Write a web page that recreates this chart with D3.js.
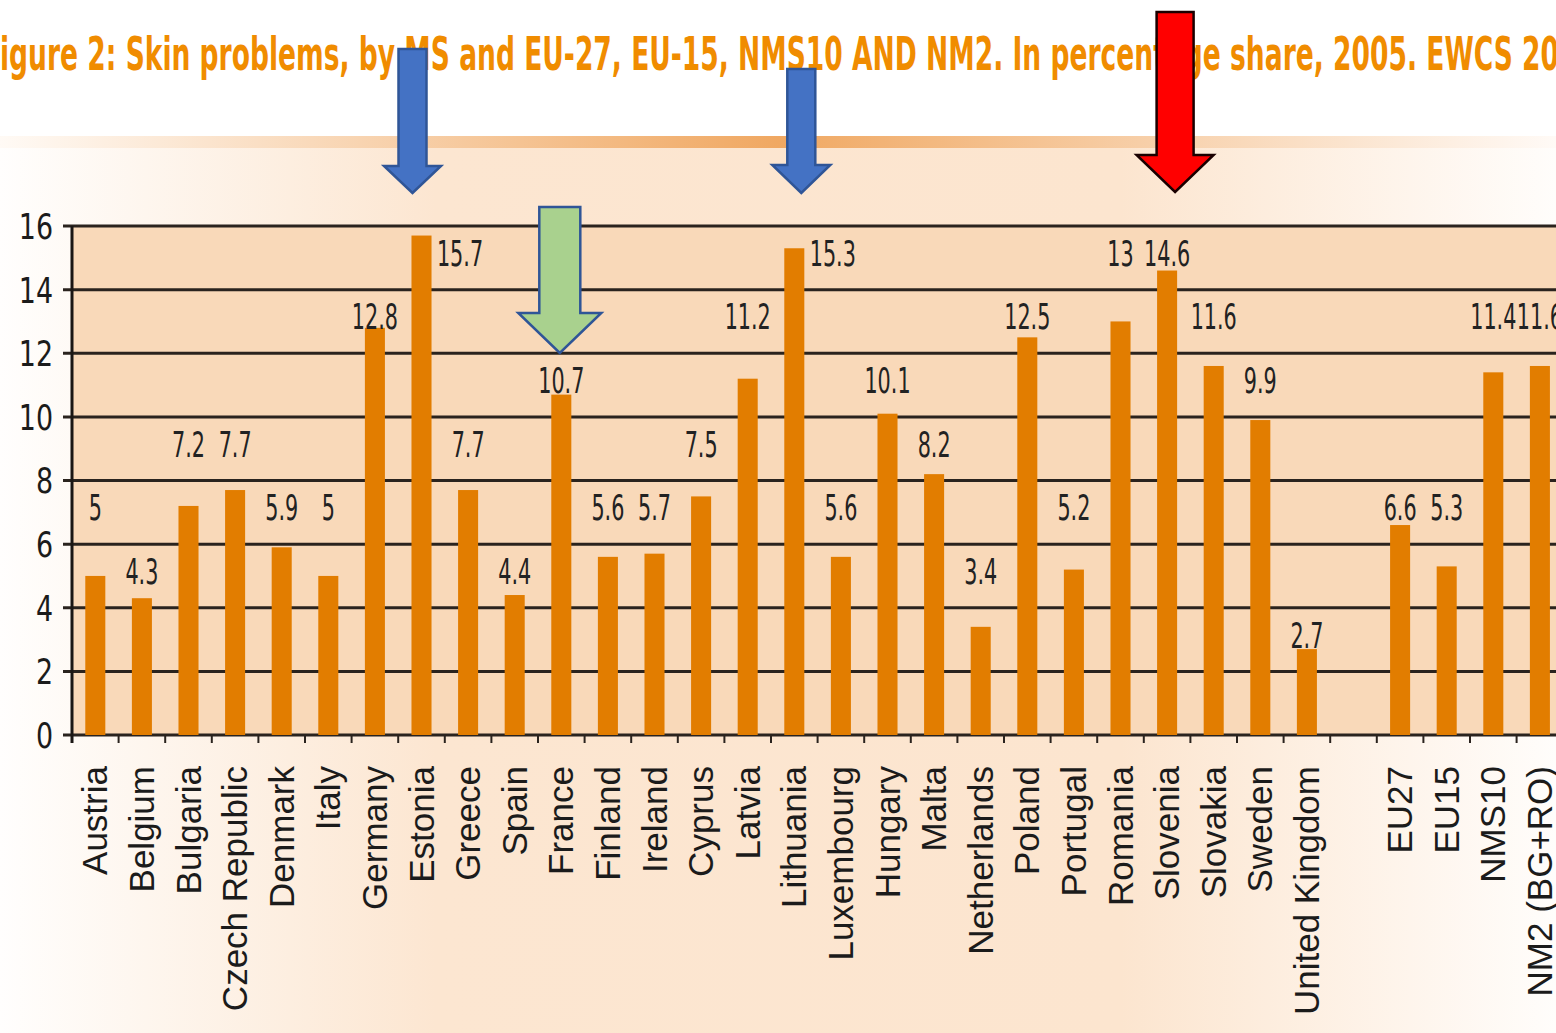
<!DOCTYPE html>
<html>
<head>
<meta charset="utf-8">
<script src="https://cdn.jsdelivr.net/npm/d3@7"></script>
<style>
  html, body { margin: 0; padding: 0; background: #fff; overflow: hidden; }
  svg { display: block; }
</style>
</head>
<body>
<svg id="chart" width="1556" height="1033"></svg>
<script>
// ============================================
// Skin problems by member state - bar chart
// ============================================

const titleText = "Figure 2: Skin problems, by MS and EU-27, EU-15, NMS10 AND NM2. In percentage share, 2005. EWCS 2005";

const countries = [
    "Austria", "Belgium", "Bulgaria", "Czech Republic", "Denmark", "Italy",
    "Germany", "Estonia", "Greece", "Spain", "France", "Finland", "Ireland",
    "Cyprus", "Latvia", "Lithuania", "Luxembourg", "Hungary", "Malta",
    "Netherlands", "Poland", "Portugal", "Romania", "Slovenia", "Slovakia",
    "Sweden", "United Kingdom"
];
const countryValues = [
    5, 4.3, 7.2, 7.7, 5.9, 5,
    12.8, 15.7, 7.7, 4.4, 10.7, 5.6, 5.7,
    7.5, 11.2, 15.3, 5.6, 10.1, 8.2,
    3.4, 12.5, 5.2, 13, 14.6, 11.6,
    9.9, 2.7
];

const aggregates = ["EU27", "EU15", "NMS10", "NM2 (BG+RO)"];
const aggregateValues = [6.6, 5.3, 11.4, 11.6];

const yTicks = [0, 2, 4, 6, 8, 10, 12, 14, 16];

// labels pushed to the side of the bar (arrow sits above them)
const sideLabelled = ["Estonia", "Lithuania"];

// build rows, with an empty slot between countries and aggregates
const GAP = "__gap__";
const rows = countries.map((c, i) => ({ cat: c, value: countryValues[i] }))
    .concat(aggregates.map((c, i) => ({ cat: c, value: aggregateValues[i] })));
const slots = countries.concat([GAP], aggregates);

// ============================================
// Setup
// ============================================
const svg = d3.select('#chart');
const W = 1556, H = 1033;
const step = 46.6;
const plotLeft = 72, plotTop = 226, plotBottom = 735;
const plotRight = plotLeft + slots.length * step;

const x = d3.scaleBand().domain(slots).range([plotLeft, plotRight]).padding(0);
const y = d3.scaleLinear().domain([0, 16]).range([plotBottom, plotTop]);

const barColor = '#e27d00';
const inkColor = '#1b1b1b';
const narrow = '"DejaVu Sans Condensed", "Liberation Sans Narrow", sans-serif';

// gradients
const defs = svg.append('defs');
const bgGrad = defs.append('linearGradient').attr('id', 'bgGrad')
    .attr('x1', '0%').attr('x2', '100%').attr('y1', '0%').attr('y2', '0%');
[[0, '#fffefd'], [0.28, '#fce6d1'], [0.72, '#fce5cf'], [1, '#fffdfb']]
    .forEach(([o, c]) => bgGrad.append('stop').attr('offset', o).attr('stop-color', c));
const bandGrad = defs.append('linearGradient').attr('id', 'bandGrad')
    .attr('x1', '0%').attr('x2', '100%').attr('y1', '0%').attr('y2', '0%');
[[0, '#fffaf5'], [0.5, '#f0a862'], [1, '#fffaf6']]
    .forEach(([o, c]) => bandGrad.append('stop').attr('offset', o).attr('stop-color', c));

// page background
svg.append('rect').attr('width', W).attr('height', H).attr('fill', '#ffffff');
svg.append('rect').attr('x', 0).attr('y', 148).attr('width', W).attr('height', H - 148)
    .attr('fill', 'url(#bgGrad)');
svg.append('rect').attr('x', 0).attr('y', 136).attr('width', W).attr('height', 12)
    .attr('fill', 'url(#bandGrad)');

// ============================================
// Title (scaled so that it runs off both edges like the source)
// ============================================
const title = svg.append('text')
    .attr('x', 0).attr('y', 0)
    .attr('font-family', narrow)
    .attr('font-size', 46)
    .attr('font-weight', 'bold')
    .attr('fill', '#f08c00')
    .text(titleText);
{
    const node = title.node();
    const firstW = node.getSubStringLength(0, 1);
    const endIdx = titleText.lastIndexOf('05');
    const visibleW = node.getSubStringLength(1, endIdx - 1);
    const s = 1560 / visibleW;
    title.attr('transform', `translate(${-firstW * s},70) scale(${s},1)`);
}

// ============================================
// Plot area
// ============================================
svg.append('rect')
    .attr('x', plotLeft).attr('y', plotTop)
    .attr('width', plotRight - plotLeft).attr('height', plotBottom - plotTop)
    .attr('fill', '#f9d9b9');

// grid lines (they also make the y ticks)
svg.append('g').selectAll('line')
    .data(yTicks)
    .enter()
    .append('line')
    .attr('x1', plotLeft - 9).attr('x2', plotRight)
    .attr('y1', d => y(d)).attr('y2', d => y(d))
    .attr('stroke', '#2a231e')
    .attr('stroke-width', 3);

// y tick labels
svg.append('g').selectAll('text')
    .data(yTicks)
    .enter()
    .append('text')
    .attr('transform', d => `translate(53,${y(d)}) scale(0.83,1)`)
    .attr('dy', '0.36em')
    .attr('text-anchor', 'end')
    .attr('font-family', narrow)
    .attr('font-size', 36)
    .attr('fill', inkColor)
    .text(d => d);

// bars
const barW = x.bandwidth() * 0.43;
svg.append('g').selectAll('rect')
    .data(rows)
    .enter()
    .append('rect')
    .attr('x', d => x(d.cat) + (x.bandwidth() - barW) / 2)
    .attr('y', d => y(d.value))
    .attr('width', barW)
    .attr('height', d => y(0) - y(d.value))
    .attr('fill', barColor);

// x axis ticks at slot edges
const edges = d3.range(slots.length + 1).map(i => plotLeft + i * x.step());
svg.append('g').selectAll('line')
    .data(edges)
    .enter()
    .append('line')
    .attr('x1', d => d).attr('x2', d => d)
    .attr('y1', plotBottom).attr('y2', plotBottom + 8)
    .attr('stroke', '#2a231e')
    .attr('stroke-width', 2);

// y axis line
svg.append('line')
    .attr('x1', plotLeft).attr('x2', plotLeft)
    .attr('y1', plotTop).attr('y2', plotBottom + 8)
    .attr('stroke', '#1a1614')
    .attr('stroke-width', 3);

// value labels: placed in the grid band just above each bar
function labelBase(d) {
    const side = sideLabelled.includes(d.cat);
    const v = side ? d.value - 2 : d.value;
    const bandLow = Math.floor((v + 1) / 2) * 2;
    return y(bandLow + 0.75);
}
svg.append('g').selectAll('text')
    .data(rows)
    .enter()
    .append('text')
    .attr('transform', d => {
        const side = sideLabelled.includes(d.cat);
        const cx = x(d.cat) + x.bandwidth() / 2 + (side ? 38.5 : 0);
        return `translate(${cx},${labelBase(d)}) scale(0.64,1)`;
    })
    .attr('text-anchor', 'middle')
    .attr('font-family', narrow)
    .attr('font-size', 36)
    .attr('fill', '#222')
    .text(d => d.value);

// category labels, rotated
svg.append('g').selectAll('text')
    .data(rows)
    .enter()
    .append('text')
    .attr('transform', d => `translate(${x(d.cat) + x.bandwidth() / 2 + 12},766) rotate(-90)`)
    .attr('text-anchor', 'end')
    .attr('font-family', '"Liberation Sans", Arial, sans-serif')
    .attr('font-size', 35)
    .attr('fill', inkColor)
    .text(d => d.cat);

// ============================================
// Annotation arrows
// ============================================
function arrowPath(cx, top, headTop, tip, sw, hw) {
    return `M${cx - sw / 2},${top}H${cx + sw / 2}V${headTop}H${cx + hw / 2}` +
        `L${cx},${tip}L${cx - hw / 2},${headTop}H${cx - sw / 2}Z`;
}
const mid = c => x(c) + x.bandwidth() / 2;
const arrows = [
    { cx: mid("Estonia") - 9, top: 49, headTop: 166, tip: 193, sw: 28, hw: 57, fill: '#4472c4', stroke: '#2f5597' },
    { cx: mid("France") - 1.5, top: 207, headTop: 313, tip: 353, sw: 41, hw: 83, fill: '#a9d18e', stroke: '#2f5597' },
    { cx: mid("Lithuania") + 7, top: 69, headTop: 165, tip: 193, sw: 28, hw: 58, fill: '#4472c4', stroke: '#2f5597' },
    { cx: mid("Slovenia") + 8, top: 12, headTop: 155, tip: 192, sw: 37, hw: 77, fill: '#ff0000', stroke: '#1a0000' }
];
svg.append('g').selectAll('path')
    .data(arrows)
    .enter()
    .append('path')
    .attr('d', a => arrowPath(a.cx, a.top, a.headTop, a.tip, a.sw, a.hw))
    .attr('fill', a => a.fill)
    .attr('stroke', a => a.stroke)
    .attr('stroke-width', 2.5)
    .attr('stroke-linejoin', 'miter');
</script>
</body>
</html>
